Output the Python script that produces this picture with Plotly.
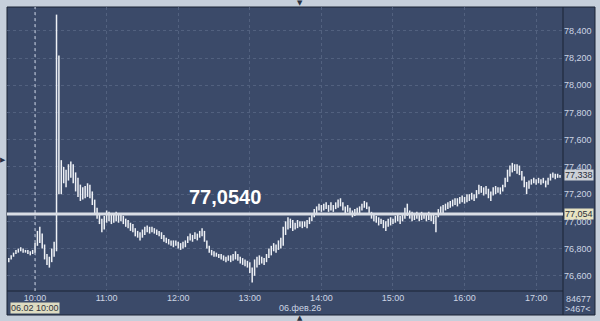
import pandas as pd
import plotly.graph_objects as go

# ---------------- data (2-minute bars, 06.02.2026) ----------------
bar_start = "2026-02-06 09:38"
bar_step = "2min"

bar_low = [
    76.70, 76.72, 76.74, 76.76, 76.77, 76.78, 76.77, 76.77, 76.76, 76.75, 76.76,
    76.77, 76.82, 76.84, 76.80, 76.72, 76.68, 76.66, 76.70, 76.74,
    76.78, 77.20, 77.20, 77.28, 77.25, 77.30, 77.32, 77.28, 77.22, 77.18,
    77.15, 77.16, 77.17, 77.18, 77.17, 77.12, 77.06, 77.02, 76.98, 76.92,
    76.94, 76.99, 77.00, 76.98, 76.99, 77.00, 76.99, 77.00, 76.98, 76.96, 76.95,
    76.93, 76.92, 76.89, 76.88, 76.86, 76.88, 76.90, 76.92, 76.91, 76.92,
    76.91, 76.90, 76.89, 76.87, 76.85, 76.84, 76.83, 76.82, 76.81, 76.82, 76.80,
    76.79, 76.80, 76.81, 76.84, 76.86, 76.85, 76.87, 76.86, 76.88, 76.89,
    76.85, 76.80, 76.77, 76.75, 76.74, 76.74, 76.73, 76.72, 76.71, 76.70, 76.71,
    76.70, 76.71, 76.72, 76.71, 76.69, 76.68, 76.67, 76.66, 76.62, 76.55,
    76.60, 76.66, 76.68, 76.69, 76.68, 76.70, 76.73, 76.75, 76.78, 76.77, 76.79,
    76.80, 76.82, 76.90, 76.94, 76.95, 76.93, 76.94, 76.95, 76.96, 76.95,
    76.96, 76.95, 76.98, 77.00, 77.03, 77.06, 77.08, 77.07, 77.08, 77.09, 77.07,
    77.08, 77.07, 77.09, 77.10, 77.11, 77.08, 77.06, 77.07, 77.05, 77.03,
    77.04, 77.05, 77.06, 77.08, 77.10, 77.09, 77.06, 77.02, 77.00, 76.99, 76.97,
    76.98, 76.95, 76.93, 76.96, 76.97, 76.98, 76.99, 77.00, 76.98, 77.00,
    77.02, 77.04, 77.02, 77.00, 77.01, 77.02, 77.00, 77.01, 77.02, 77.00, 77.01,
    77.00, 76.98, 76.92, 77.03, 77.05, 77.06, 77.08, 77.09, 77.10, 77.11,
    77.12, 77.11, 77.13, 77.14, 77.13, 77.14, 77.15, 77.16, 77.15, 77.17, 77.20,
    77.21, 77.19, 77.20, 77.17, 77.15, 77.19, 77.20, 77.21, 77.20, 77.22,
    77.25, 77.29, 77.33, 77.36, 77.37, 77.35, 77.34, 77.30, 77.25, 77.20, 77.24, 77.27,
    77.28, 77.27, 77.28, 77.27, 77.28, 77.25, 77.27, 77.30, 77.32, 77.31, 77.32, 77.32,
]

bar_high = [
    76.73, 76.75, 76.77, 76.79, 76.80, 76.81, 76.80, 76.79, 76.79, 76.78, 76.79,
    76.84, 76.93, 76.96, 76.91, 76.83, 76.76, 76.74, 76.80, 76.85,
    78.52, 78.22, 77.45, 77.40, 77.38, 77.42, 77.44, 77.42, 77.36, 77.32,
    77.27, 77.25, 77.26, 77.28, 77.27, 77.22, 77.16, 77.10, 77.06, 77.02,
    77.04, 77.08, 77.07, 77.05, 77.06, 77.07, 77.06, 77.05, 77.04, 77.02, 77.01,
    76.99, 76.98, 76.95, 76.93, 76.92, 76.94, 76.96, 76.97, 76.96, 76.96,
    76.95, 76.94, 76.93, 76.92, 76.90, 76.88, 76.87, 76.86, 76.86, 76.86, 76.85,
    76.84, 76.85, 76.86, 76.89, 76.91, 76.90, 76.92, 76.91, 76.93, 76.95,
    76.93, 76.86, 76.82, 76.79, 76.78, 76.77, 76.76, 76.76, 76.75, 76.74, 76.75,
    76.75, 76.76, 76.78, 76.76, 76.74, 76.73, 76.72, 76.71, 76.70, 76.66,
    76.72, 76.74, 76.75, 76.74, 76.73, 76.76, 76.80, 76.82, 76.84, 76.83, 76.86,
    76.88, 76.96, 77.00, 77.03, 77.02, 77.01, 76.99, 77.01, 77.00, 77.00,
    77.00, 77.01, 77.03, 77.06, 77.09, 77.11, 77.13, 77.12, 77.13, 77.14, 77.12,
    77.14, 77.12, 77.14, 77.16, 77.17, 77.14, 77.11, 77.12, 77.10, 77.08,
    77.09, 77.10, 77.11, 77.13, 77.15, 77.14, 77.11, 77.07, 77.05, 77.04, 77.03,
    77.02, 77.01, 77.00, 77.02, 77.03, 77.02, 77.04, 77.05, 77.04, 77.06,
    77.10, 77.13, 77.08, 77.07, 77.06, 77.07, 77.05, 77.07, 77.06, 77.06, 77.07,
    77.06, 77.05, 77.04, 77.09, 77.11, 77.12, 77.13, 77.14, 77.15, 77.16,
    77.17, 77.17, 77.18, 77.19, 77.18, 77.20, 77.20, 77.21, 77.20, 77.23, 77.27,
    77.26, 77.25, 77.26, 77.24, 77.22, 77.25, 77.26, 77.25, 77.25, 77.27,
    77.32, 77.38, 77.41, 77.43, 77.42, 77.42, 77.41, 77.37, 77.33, 77.29, 77.30, 77.31,
    77.32, 77.31, 77.32, 77.31, 77.32, 77.30, 77.32, 77.35, 77.36, 77.35, 77.35, 77.34,
]

ref_level = 77.054
ref_label = "77,0540"
last_price_label = "77,338"
last_price = 77.338
crosshair_time = "2026-02-06 10:00"
crosshair_label = "06.02 10:00"
date_label = "06.фев.26"
volume_label = "84677"
count_label = ">467<"
y_tick_values = [76.6, 76.8, 77.0, 77.2, 77.4, 77.6, 77.8, 78.0, 78.2, 78.4]
x_tick_times = pd.date_range("2026-02-06 10:00", "2026-02-06 17:00", freq="h")
x_range = ["2026-02-06 09:36:30", "2026-02-06 17:22:30"]
y_range = [76.488, 78.576]

# ---------------- figure ----------------
assert len(bar_low) == len(bar_high)
times = pd.date_range(bar_start, periods=len(bar_low), freq=bar_step)

seg_x, seg_y = [], []
for t, lo, hi in zip(times, bar_low, bar_high):
    seg_x += [t, t, None]
    seg_y += [lo, hi, None]

BG = "#3b4a69"
OUTER = "#c6cfdb"
EDGE = "#1b2335"
TXT = "#ccd5e4"
FONT = "Liberation Sans"

fig = go.Figure()
fig.add_trace(go.Scatter(x=seg_x, y=seg_y, mode="lines",
                         line=dict(color="#eef1f6", width=1.5),
                         hoverinfo="skip", showlegend=False))

W, H = 600, 321
ml, mr, mt, mb = 7, 37, 7, 30
pw, ph = W - ml - mr, H - mt - mb
def px(xp):  # pixel x -> paper
    return (xp - ml) / pw
def py(yp):  # pixel y -> paper
    return (H - mb - yp) / ph

shapes = [
    dict(type="rect", xref="paper", yref="paper", x0=px(7), x1=px(595), y0=py(315), y1=py(7),
         fillcolor=BG, line=dict(color=EDGE, width=1), layer="below"),
    dict(type="line", xref="paper", yref="paper", x0=px(7), x1=px(563), y0=0, y1=0,
         line=dict(color=EDGE, width=1)),
    dict(type="line", xref="paper", yref="paper", x0=1, x1=1, y0=py(315), y1=py(7),
         line=dict(color=EDGE, width=1)),
    dict(type="line", xref="x", yref="paper", x0=crosshair_time, x1=crosshair_time, y0=0, y1=1,
         line=dict(color="#c8d0e0", width=1, dash="dot")),
    dict(type="line", xref="paper", yref="y", x0=0, x1=1, y0=ref_level, y1=ref_level,
         line=dict(color="#d9dde5", width=3)),
]

def ann(**kw):
    base = dict(showarrow=False, xanchor="center", yanchor="middle")
    base.update(kw)
    return base

annotations = [
    ann(text=ref_label, xref="paper", yref="y", x=px(225), y=ref_level, yanchor="bottom",
        yshift=4, font=dict(family=FONT, size=20, color="#ffffff", weight="bold")),
    ann(text=last_price_label, xref="paper", yref="y", x=px(578.5), y=last_price,
        bgcolor="#cdd1d7", borderpad=0, font=dict(family=FONT, size=9, color="#2a2f3a")),
    ann(text=ref_label[:6], xref="paper", yref="y", x=px(578.5), y=ref_level,
        bgcolor="#e6e2c2", borderpad=0, font=dict(family=FONT, size=9, color="#2a2f3a")),
    ann(text=crosshair_label, xref="x", yref="paper", x=crosshair_time, y=py(308),
        bgcolor="#dedcc2", borderpad=0, font=dict(family=FONT, size=9, color="#30343c")),
    ann(text=date_label, xref="paper", yref="paper", x=px(300), y=py(308),
        font=dict(family=FONT, size=9, color=TXT)),
    ann(text=volume_label, xref="paper", yref="paper", x=px(578), y=py(299),
        font=dict(family=FONT, size=9, color=TXT)),
    ann(text=count_label, xref="paper", yref="paper", x=px(578), y=py(309),
        font=dict(family=FONT, size=9, color=TXT)),
    ann(text="▼", xref="paper", yref="paper", x=px(300), y=py(3),
        font=dict(family="DejaVu Sans", size=7, color="#2a3142")),
    ann(text="▲", xref="paper", yref="paper", x=px(300), y=py(318),
        font=dict(family="DejaVu Sans", size=7, color="#2a3142")),
    ann(text="▶", xref="paper", yref="paper", x=px(3), y=py(160),
        font=dict(family="DejaVu Sans", size=7, color="#2a3142")),
]

fig.update_layout(
    width=W, height=H,
    margin=dict(l=ml, r=mr, t=mt, b=mb, pad=0),
    paper_bgcolor=OUTER, plot_bgcolor=BG,
    separators=", ",
    showlegend=False,
    shapes=shapes, annotations=annotations,
    xaxis=dict(range=x_range, type="date", tickvals=x_tick_times, tickformat="%H:%M",
               showgrid=True, gridcolor="#52617f", griddash="dot", gridwidth=1,
               zeroline=False, showline=False, ticks="",
               tickfont=dict(family=FONT, size=9, color=TXT)),
    yaxis=dict(range=y_range, side="right", tickvals=y_tick_values, tickformat=".3f",
               showgrid=True, gridcolor="#52617f", griddash="dot", gridwidth=1,
               zeroline=False, showline=False, ticks="",
               tickfont=dict(family=FONT, size=9, color=TXT)),
)

fig.write_html("out.html")
